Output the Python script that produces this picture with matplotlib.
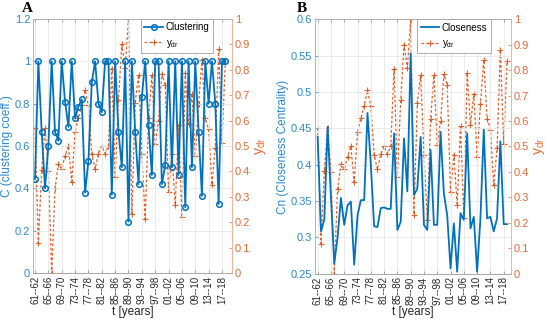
import numpy as np
import matplotlib.pyplot as plt

plt.rcParams['font.family'] = ['Liberation Sans', 'DejaVu Sans']
plt.rcParams['mathtext.fontset'] = 'custom'
plt.rcParams['mathtext.rm'] = 'Liberation Sans'
plt.rcParams['mathtext.it'] = 'Liberation Sans:italic'

# one value per hydrological year, 1961-62 ... 2018-19
clustering = [0.444, 1, 0.667, 0.40, 0.6, 1, 0.667, 0.625, 1, 0.81,
              0.69, 1, 0.73, 0.786, 0.82, 0.38, 0.53, 0.9, 1, 0.8,
              0.76, 1, 1, 0.37, 1, 0.667, 0.5, 1, 0.243, 1,
              0.667, 0.42, 0.833, 1, 0.70, 0.463, 1, 1, 0.42, 0.51,
              1, 0.5, 1, 0.463, 1, 0.31, 1, 0.5, 1, 0.667,
              0.364, 1, 0.8, 1, 0.8, 0.326, 1, 1]
closeness = [0.438, 0.308, 0.324, 0.452, 0.355, 0.264, 0.30, 0.354, 0.317, 0.344,
             0.349, 0.262, 0.33, 0.351, 0.351, 0.471, 0.40, 0.315, 0.314, 0.34,
             0.341, 0.339, 0.339, 0.443, 0.31, 0.321, 0.436, 0.363, 0.553, 0.358,
             0.367, 0.438, 0.317, 0.31, 0.42, 0.317, 0.317, 0.445, 0.36, 0.33,
             0.257, 0.319, 0.2525, 0.333, 0.324, 0.443, 0.312, 0.328, 0.2525, 0.326,
             0.448, 0.326, 0.328, 0.308, 0.326, 0.432, 0.318, 0.318]
ydr = [0.572, 0.117, 0.405, 0.572, 0.40, 0.0, 0.333, 0.43, 0.41, 0.46,
       0.50, 0.36, 0.556, 0.61, 0.66, 0.72, 0.66, 0.467, 0.41, 0.47,
       0.50, 0.47, 0.50, 0.805, 0.378, 0.683, 0.90, 0.808, 1.0, 0.232,
       0.67, 0.78, 0.467, 0.212, 0.609, 0.78, 0.507, 0.60, 0.784, 0.74,
       0.32, 0.467, 0.268, 0.582, 0.219, 0.788, 0.585, 0.706, 0.46, 0.667,
       0.84, 0.609, 0.566, 0.347, 0.494, 0.88, 0.51, 0.834]
tick_labels = ['61--62', '65--66', '69--70', '73--74', '77--78', '81--82', '85--86',
               '89--90', '93--94', '97--98', '01--02', '05--06', '09--10', '13--14', '17--18']

x = np.arange(1, len(ydr) + 1)
tick_pos = np.arange(1, len(ydr) + 1, 4)[:len(tick_labels)]

blue = '#0072BD'
orange = '#D95319'
ydr_label = r'$\mathregular{y_{dr}}$'


def panel(ax, yvals, ylim, yticks, yticklabels, ylabel, name, marker, xlim, leg_x):
    ax2 = ax.twinx()
    ax.set_zorder(ax2.get_zorder() + 1)
    ax.patch.set_visible(False)

    l2, = ax2.plot(x, ydr, color=orange, lw=0.9, ls=(0, (2.2, 1.6)), marker='+',
                   ms=4, mew=0.8, alpha=0.9, label=ydr_label)
    l1, = ax.plot(x, yvals, color=blue, lw=1.3, marker=marker, ms=4, mfc='none',
                  mew=1.1, label=name)

    ax.set_xlim(*xlim)
    ax.set_ylim(*ylim)
    ax.set_yticks(yticks)
    ax.set_yticklabels(yticklabels)
    ax.set_xticks(tick_pos)
    ax.set_xticklabels(tick_labels, rotation=90)
    ax.grid(True, color='#e8e8e8', lw=0.6)

    ax2.set_ylim(0, 1)
    ax2.set_yticks(np.linspace(0, 1, 11))
    ax2.set_yticklabels(['0', '0.1', '0.2', '0.3', '0.4', '0.5', '0.6', '0.7', '0.8', '0.9', '1'])

    ax.tick_params(axis='y', colors='#2a88d2', labelsize=8, direction='in',
                   length=2.5, width=0.5, pad=2)
    ax.tick_params(axis='x', colors='#8a8a8a', labelcolor='#262626', labelsize=7,
                   direction='in', length=2.5, width=0.5, top=True, pad=2)
    ax2.tick_params(axis='y', colors='#e36a36', labelsize=8, direction='in',
                    length=2.5, width=0.5, pad=2)

    for a in (ax, ax2):
        a.spines['left'].set_color('#8dbfe6')
        a.spines['right'].set_color('#f0b49a')
        a.spines['top'].set_color('#a8a8a8')
        a.spines['bottom'].set_color('#a8a8a8')
        for s in a.spines.values():
            s.set_linewidth(0.6)

    ax.set_ylabel(ylabel, color='#2a88d2', fontsize=8.5, labelpad=1)
    ax2.set_ylabel(ydr_label, color='#e36a36', fontsize=10, labelpad=2)
    ax.set_xlabel('t [years]', color='#262626', fontsize=8.5, labelpad=1)

    leg = ax.legend([l1, l2], [name, ydr_label], loc='upper right',
                    bbox_to_anchor=(leg_x, 1.0), fontsize=7, fancybox=False,
                    edgecolor='#a0a0a0', framealpha=1, borderaxespad=0,
                    handlelength=1.9, handletextpad=0.3, borderpad=0.35,
                    labelspacing=0.55)
    leg.get_frame().set_linewidth(0.6)


fig = plt.figure(figsize=(5.5, 3.2), dpi=100)
axA = fig.add_axes([33 / 550, 47 / 320, 199 / 550, 254 / 320])
axB = fig.add_axes([315 / 550, 46.5 / 320, 196 / 550, 254.2 / 320])

panel(axA, clustering, (0, 1.2), np.linspace(0, 1.2, 7),
      ['0', '0.2', '0.4', '0.6', '0.8', '1', '1.2'],
      'C (clustering coeff.)', 'Clustering', 'o', (0.4, 60), 1 - 19 / 199)
panel(axB, closeness, (0.25, 0.6), np.linspace(0.25, 0.6, 8),
      ['0.25', '0.3', '0.35', '0.4', '0.45', '0.5', '0.55', '0.6'],
      'Cn (Closeness Centrality)', 'Closeness', None, (0.2, 59.2), 1 - 20 / 196)

fig.text(22 / 550, 1 - 8 / 320, 'A', fontfamily='Liberation Serif', fontweight='bold',
         fontsize=11, va='center')
fig.text(297 / 550, 1 - 8 / 320, 'B', fontfamily='Liberation Serif', fontweight='bold',
         fontsize=11, va='center')

fig.savefig('out.png', dpi=100)
